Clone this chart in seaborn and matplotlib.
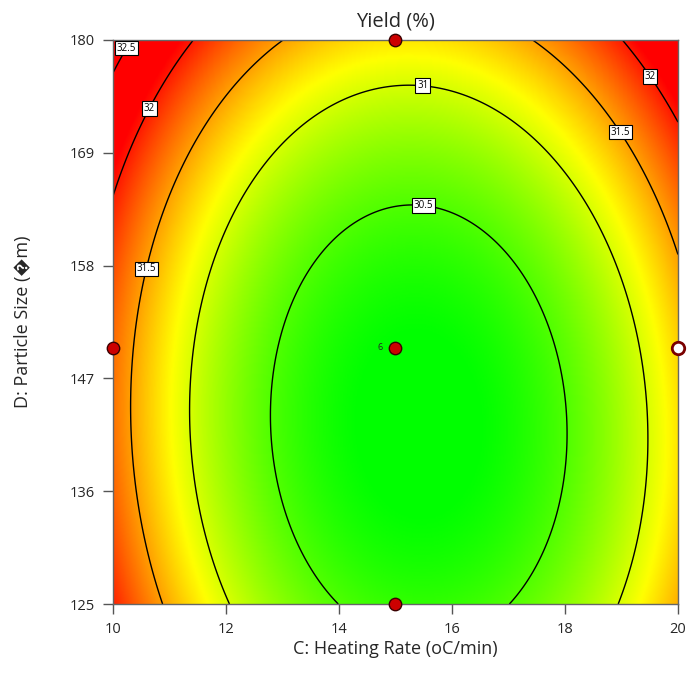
import numpy as np
import pandas as pd
import matplotlib
matplotlib.use("Agg")
import matplotlib.pyplot as plt
import seaborn as sns
from matplotlib.colors import LinearSegmentedColormap

# ---- data ----
# quadratic response-surface model (coded units), read from the contour shapes
coef_names = ["b0", "bC", "bD", "bCD", "bC2", "bD2"]
coef_values = [30.225, -0.189, 0.427, 0.074, 1.31, 0.595]
c_range = [10, 20]
d_range = [125, 180]
contour_levels = [30.5, 31.0, 31.5, 32.0, 32.5]
color_min, color_max = 30.2, 32.1

x_ticks = [10, 12, 14, 16, 18, 20]
y_ticks = [125, 136, 147, 158, 169, 180]

# design points
pt_c = [15, 10, 15, 15, 20]
pt_d = [180, 150, 150, 125, 150]
pt_kind = ["below", "below", "below", "below", "above"]
center_count_label = "6"

# contour label positions (C, D)
label_pos = [(10.21, 179.3), (10.62, 173.4), (10.65, 157.6), (15.49, 176.0),
             (15.49, 163.8), (19.54, 176.6), (19.0, 171.1)]

title = "Yield (%)"
x_label = "C: Heating Rate (oC/min)"
y_label = "D: Particle Size (\ufffdm)"

# ---- figure ----
sns.set_style("white")
plt.rcParams["font.family"] = ["Open Sans", "DejaVu Sans"]

fig = plt.figure(figsize=(6.88, 6.87), dpi=100)
ax = fig.add_axes([0.1642, 0.1208, 0.8212, 0.8210])

k = dict(zip(coef_names, coef_values))
C = np.linspace(c_range[0], c_range[1], 400)
D = np.linspace(d_range[0], d_range[1], 400)
CC, DD = np.meshgrid(C, D)
xc = (CC - np.mean(c_range)) / ((c_range[1] - c_range[0]) / 2)
yc = (DD - np.mean(d_range)) / ((d_range[1] - d_range[0]) / 2)
Z = (k["b0"] + k["bC"] * xc + k["bD"] * yc + k["bCD"] * xc * yc
     + k["bC2"] * xc ** 2 + k["bD2"] * yc ** 2)

cmap = LinearSegmentedColormap.from_list("gyr", ["#00ff00", "#ffff00", "#ff0000"])
ax.imshow(Z, origin="lower", extent=[c_range[0], c_range[1], d_range[0], d_range[1]],
          aspect="auto", cmap=cmap, vmin=color_min, vmax=color_max,
          interpolation="bilinear", zorder=0)
cs = ax.contour(CC, DD, Z, levels=contour_levels, colors="black", linewidths=1.0, zorder=1)
labels = ax.clabel(cs, inline=False, fontsize=7, fmt=lambda v: f"{v:g}", manual=label_pos)
for t in labels:
    t.set_rotation(0)
    t.set_bbox(dict(facecolor="white", edgecolor="black", linewidth=0.8, pad=1.3))
    t.set_zorder(3)

df = pd.DataFrame({"C": pt_c, "D": pt_d, "kind": pt_kind})
sns.scatterplot(data=df[df.kind == "below"], x="C", y="D", ax=ax, s=80,
                color="#cc0000", edgecolor="#3a0000", linewidth=1.0, zorder=5, clip_on=False)
sns.scatterplot(data=df[df.kind == "above"], x="C", y="D", ax=ax, s=80,
                color="white", edgecolor="#7a0000", linewidth=2.0, zorder=5, clip_on=False)
ax.text(pt_c[2] - 0.22, pt_d[2], center_count_label, fontsize=6.5, ha="right", va="center", zorder=6)

ax.set_xlim(c_range)
ax.set_ylim(d_range)
ax.set_xticks(x_ticks)
ax.set_yticks(y_ticks)
ax.tick_params(axis="both", direction="out", length=7, width=1, color="#555555",
               labelsize=10.5, pad=6, bottom=True, left=True)
for sp in ax.spines.values():
    sp.set_color("#666666")
    sp.set_linewidth(1.0)

ax.set_title(title, fontsize=14.5, pad=10)
ax.set_xlabel(x_label, fontsize=13, labelpad=2)
ax.set_ylabel(y_label, fontsize=13, labelpad=27)

fig.savefig("out.png", dpi=100)
